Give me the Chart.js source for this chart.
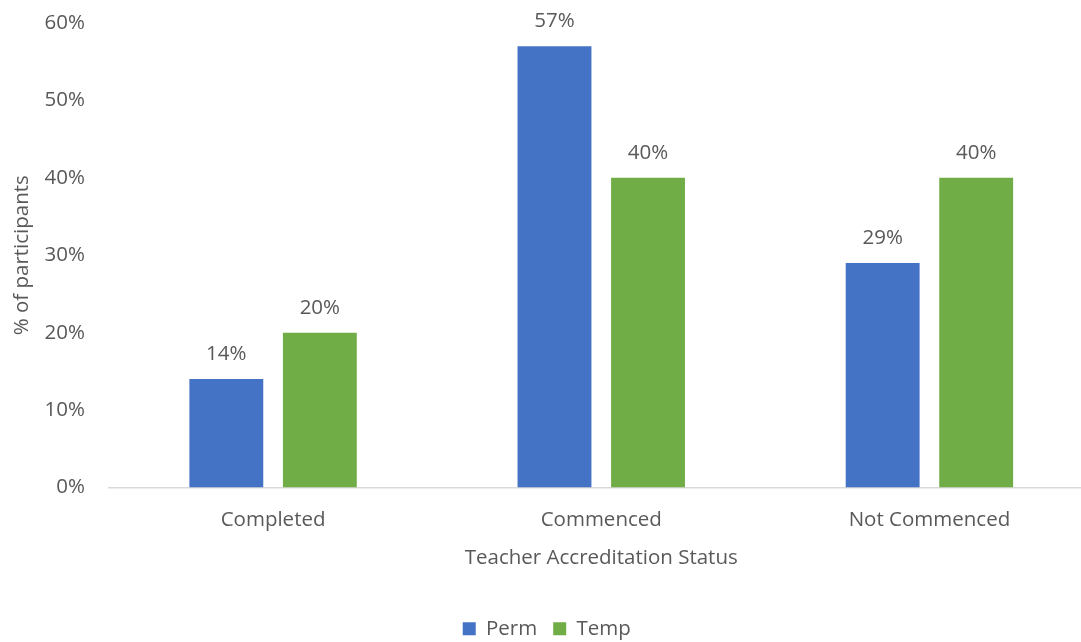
<!DOCTYPE html>
<html>
<head>
<meta charset="utf-8">
<script src="https://cdn.jsdelivr.net/npm/chart.js@4/dist/chart.umd.min.js"></script>
<style>
  html, body { margin: 0; padding: 0; background: #fff; overflow: hidden; }
  #wrap { width: 1095px; height: 642px; }
</style>
</head>
<body>
<div id="wrap"><canvas id="accChart"></canvas></div>
<script>
const categories = ["Completed", "Commenced", "Not Commenced"];
const permValues = [14, 57, 29];
const tempValues = [20, 40, 40];
const yTicks = [0, 10, 20, 30, 40, 50, 60];

const FONT = "'Open Sans', sans-serif";
const SIZE = 20.5;
const TEXT = "#595959";

/* --------- VALUE LABELS --------- */
const valueLabels = {
  id: "valueLabels",
  afterDatasetsDraw(chart) {
    const c = chart.ctx;
    c.save();
    c.font = `${SIZE}px ${FONT}`;
    c.fillStyle = TEXT;
    c.textAlign = "center";
    c.textBaseline = "middle";
    chart.data.datasets.forEach((ds, i) => {
      chart.getDatasetMeta(i).data.forEach((bar, j) => {
        c.fillText(`${ds.data[j]}%`, bar.x, bar.y - 25);
      });
    });
    c.restore();
  }
};

/* --------- CHART --------- */
new Chart(document.getElementById("accChart"), {
  type: "bar",
  data: {
    labels: categories,
    datasets: [
      { label: "Perm", data: permValues, backgroundColor: "#4472C4" },
      { label: "Temp", data: tempValues, backgroundColor: "#70AD47" }
    ]
  },
  options: {
    responsive: true,
    maintainAspectRatio: false,
    animation: false,
    layout: { padding: { top: 23, right: 1.5, left: 0, bottom: -7 } },
    datasets: { bar: { categoryPercentage: 0.57, barPercentage: 0.79 } },
    scales: {
      x: {
        afterFit: s => { s.height = 115; },
        grid: { display: false, drawTicks: false },
        border: { color: "#d9d9d9", width: 1.5 },
        ticks: { color: TEXT, font: { family: FONT, size: SIZE }, padding: 20 },
        title: {
          display: true,
          text: "Teacher Accreditation Status",
          color: TEXT,
          font: { family: FONT, size: SIZE },
          padding: { top: 12, bottom: 32 }
        }
      },
      y: {
        min: 0,
        max: 60,
        afterBuildTicks: s => { s.ticks = yTicks.map(v => ({ value: v })); },
        afterFit: s => { s.width = 109; },
        // hidden tick marks only to push the labels away from the plot
        grid: { display: false, drawTicks: true, tickLength: 22 },
        border: { display: false },
        ticks: {
          color: TEXT,
          font: { family: FONT, size: SIZE },
          padding: 2,
          callback: v => `${v}%`
        },
        title: {
          display: true,
          text: "% of participants",
          color: TEXT,
          font: { family: FONT, size: SIZE },
          padding: { top: 10, bottom: 0 }
        }
      }
    },
    plugins: {
      legend: {
        position: "bottom",
        labels: {
          color: TEXT,
          font: { family: FONT, size: SIZE },
          boxWidth: 13,
          boxHeight: 13,
          padding: 16
        }
      },
      tooltip: { enabled: false }
    }
  },
  plugins: [valueLabels]
});
</script>
</body>
</html>
